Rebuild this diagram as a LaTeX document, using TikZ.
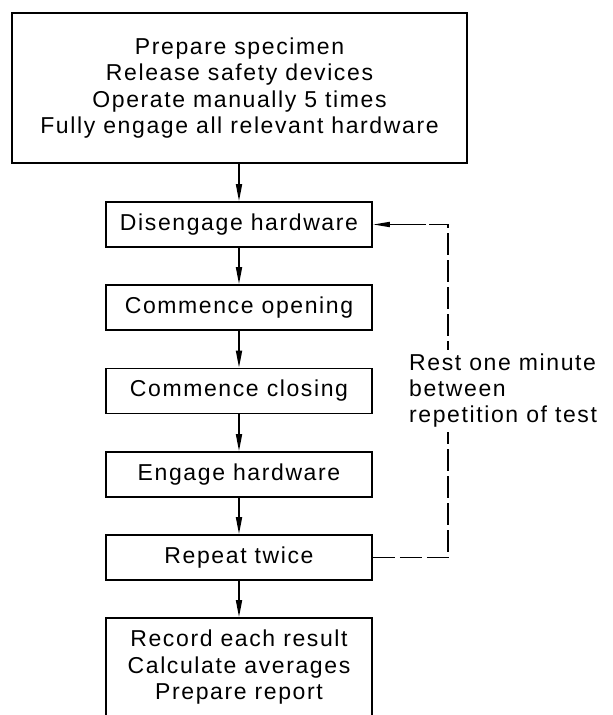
\documentclass[tikz,border=0pt]{standalone}
\usepackage{fontspec}
\setmainfont{Liberation Sans}[LetterSpace=7]
\usetikzlibrary{arrows.meta}
\tikzset{
  box/.style={draw, line width=1.7pt, align=center, inner sep=0pt,
    font=\fontsize{23}{26.5}\selectfont},
  stepbox/.style={box, minimum width=266pt, minimum height=45pt},
  flow/.style={line width=1.7pt, -{Triangle[length=17pt,width=6pt]}},
  loop/.style={line width=1.7pt, dash pattern=on 22pt off 5pt},
}
\begin{document}
\begin{tikzpicture}[x=1pt,y=-1pt]
\clip (0,0) rectangle (613,715);
\fill[white] (0,0) rectangle (613,715);
\node[box, minimum width=455pt, minimum height=150pt] (top) at (239.5,88)
  {Prepare specimen\\Release safety devices\\Operate manually 5 times\\Fully engage all relevant hardware};
\node[stepbox] (dis) at (239,224.5) {Disengage hardware};
\node[stepbox] (open) at (239,307.5) {Commence opening};
\node[stepbox] (close) at (239,391) {Commence closing};
\node[stepbox] (eng) at (239,474.5) {Engage hardware};
\node[stepbox] (rep) at (239,557.5) {Repeat twice};
\node[box, minimum width=266pt, minimum height=99pt] (rec) at (239,667.5)
  {Record each result\\Calculate averages\\Prepare report};
\draw[flow] (top.south -| dis.north) -- (dis.north);
\draw[flow] (dis) -- (open);
\draw[flow] (open) -- (close);
\draw[flow] (close) -- (eng);
\draw[flow] (eng) -- (rep);
\draw[flow] (rep) -- (rec);
\coordinate (cb) at (448,557.5);
\coordinate (ct) at (448,224.5);
\coordinate (cs) at (426,224.5);
\draw[loop] (rep.east) -- (cb) -- (ct) -- (cs);
\draw[line width=1.7pt, -{Triangle[length=17pt,width=5pt]}] (cs) -- (dis.east);
\node[fill=white, align=left, anchor=west, inner xsep=2pt, inner ysep=4pt,
  font=\fontsize{23}{26}\selectfont] (lbl) at (407,391)
  {Rest one minute\\between\\repetition of test};
\end{tikzpicture}
\end{document}
